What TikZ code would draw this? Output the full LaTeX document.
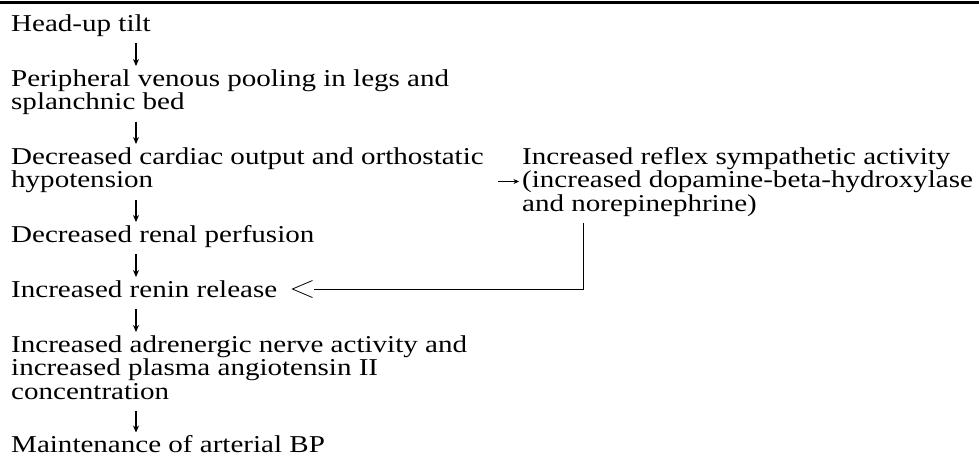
\documentclass[tikz,border=0pt]{standalone}
\usepackage{fontspec}
\setmainfont[FakeStretch=1.2]{Liberation Serif}
\usetikzlibrary{calc,arrows.meta}
\begin{document}
\begin{tikzpicture}[x=1pt,y=-1pt,
  txt/.style={anchor=base west,inner sep=0pt,font=\fontsize{24.2}{23.5}\selectfont},
  darr/.style={line width=1.1pt,-{Stealth[length=7pt,width=6pt]}},
  fb/.style={line width=0.8pt},
]
\useasboundingbox (0,0) rectangle (979,456);
\fill[white] (0,0) rectangle (979,456);
\coordinate (rl) at (0,2.2);
\coordinate (rr) at (979,2.2);
\draw[line width=2.6pt] (rl) -- (rr);
\coordinate (ax) at (136,0);
\coordinate (vx) at (583,0);
\node[txt] (t1) at (11,31) {Head-up tilt};
\node[txt] (t2a) at (11,86) {Peripheral venous pooling in legs and};
\node[txt] (t2b) at (11,109.5) {splanchnic bed};
\node[txt] (t3a) at (11,164) {Decreased cardiac output and orthostatic};
\node[txt] (t3b) at (11,187.5) {hypotension};
\node[txt] (t4) at (11,242) {Decreased renal perfusion};
\node[txt] (t5) at (11,297) {Increased renin release};
\node[txt] (t6a) at (11,352) {Increased adrenergic nerve activity and};
\node[txt] (t6b) at (11,375.5) {increased plasma angiotensin II};
\node[txt] (t6c) at (11,399) {concentration};
\node[txt] (t7) at (11,452.5) {Maintenance of arterial BP};
\node[txt] (s1) at (522,164) {Increased reflex sympathetic activity};
\node[txt] (s2) at (522,187.5) {(increased dopamine-beta-hydroxylase};
\node[txt] (s3) at (522,211) {and norepinephrine)};
\foreach \a/\b in {t1/t2a, t2b/t3a, t3b/t4, t4/t5, t5/t6a, t6c/t7}
  \draw[darr] ($(\a.base -| ax)+(0,12)$) -- ($(\b.base -| ax)+(0,-20)$);
\draw[line width=1pt,-{Stealth[length=5.5pt,width=5pt]}] ($(s2.base west)+(-24,-6)$) -- ($(s2.base west)+(-3,-6)$);
\coordinate (ct) at ($(t5.base east)+(15,-8)$);
\draw[fb] ($(s3.base -| vx)+(0,12)$) |- ($(ct)+(22,0)$);
\draw[fb] ($(ct)+(20,-8.5)$) -- (ct) -- ($(ct)+(20,8.5)$);
\end{tikzpicture}
\end{document}
